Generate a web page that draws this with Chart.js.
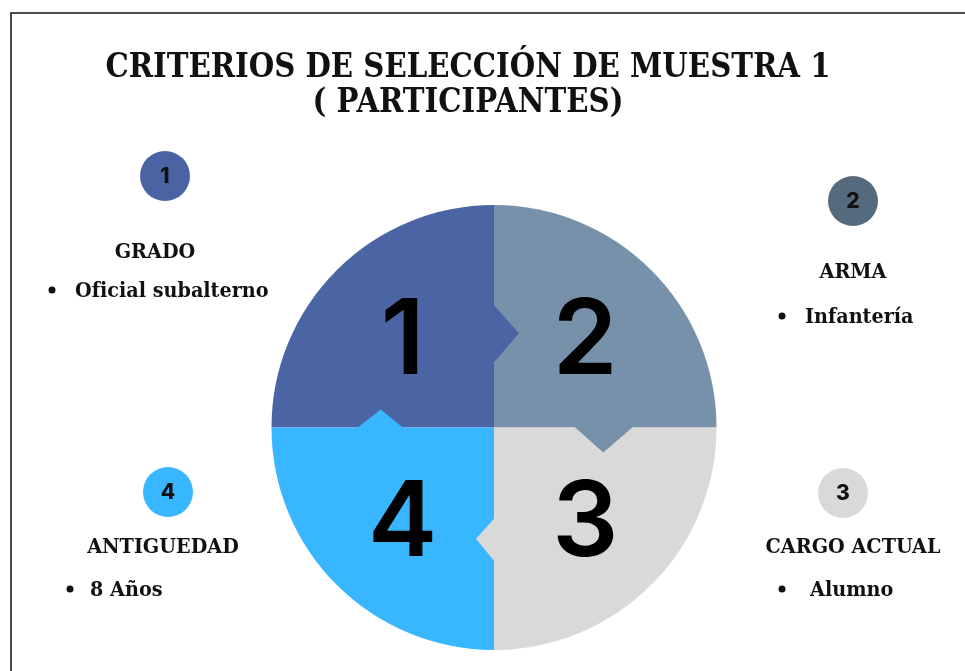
<!DOCTYPE html>
<html lang="es">
<head>
    <meta charset="UTF-8">
    <title>Criterios de selección de muestra 1</title>
    <style>
        html, body { margin: 0; padding: 0; background: #ffffff; overflow: hidden; }
        #chart { display: block; }
    </style>
</head>
<body>
    <canvas id="chart" width="965" height="671"></canvas>

    <script src="https://cdn.jsdelivr.net/npm/chart.js"></script>
    <script>
        // data
        const titleLines = ['CRITERIOS DE SELECCIÓN DE MUESTRA 1', '( PARTICIPANTES)'];
        const categories = ['1', '2', '3', '4'];
        const values = [1, 1, 1, 1];
        const headings = ['GRADO', 'ARMA', 'CARGO ACTUAL', 'ANTIGUEDAD'];
        const items = ['Oficial subalterno', 'Infantería', 'Alumno', '8 Años'];
        const sliceColors = ['#4B64A4', '#7791AA', '#D9D9D9', '#38B6FF'];
        const badgeColors = ['#4B63A3', '#566A7E', '#D9D9D9', '#38B6FF'];

        const SERIF = '"DejaVu Serif", Georgia, serif';
        const SANS = 'Inter, "Noto Sans", sans-serif';

        // where each side note sits (badge centre, heading centre/baseline, bullet)
        const notes = [
            { bx: 165, by: 176, hx: 155, hy: 258, dot: 52, tx: 75, ty: 297 },
            { bx: 853, by: 201, hx: 853, hy: 278, dot: 782, tx: 805, ty: 323 },
            { bx: 843, by: 493, hx: 853, hy: 553, dot: 782, tx: 810, ty: 596 },
            { bx: 168, by: 492, hx: 163, hy: 553, dot: 70, tx: 90, ty: 596 }
        ];

        // puzzle tabs, offsets from the pie centre for a radius of 222
        const tabs = [
            [[-2, -122], [0, -122], [25, -94], [0, -65], [-2, -65]],
            [[81, -2], [81, 0], [109, 25], [138, 0], [138, -2]],
            [[2, 91], [0, 91], [-18, 111], [0, 133], [2, 133]],
            [[-136, 2], [-136, 0], [-113, -18], [-91, 0], [-91, 2]]
        ];

        function squeezeText(ctx, text, x, y, sx, align) {
            ctx.save();
            ctx.translate(x, y);
            ctx.scale(sx, 1);
            ctx.textAlign = align || 'center';
            ctx.fillText(text, 0, 0);
            ctx.restore();
        }

        const decor = {
            id: 'decor',
            beforeDraw(chart) {
                const ctx = chart.ctx;
                ctx.save();
                ctx.strokeStyle = '#111';
                ctx.lineWidth = 1.5;
                ctx.beginPath();
                ctx.moveTo(11, 671);
                ctx.lineTo(11, 13);
                ctx.lineTo(965, 13);
                ctx.stroke();
                ctx.restore();
            },
            afterDatasetsDraw(chart) {
                const ctx = chart.ctx;
                const arcs = chart.getDatasetMeta(0).data;
                const cx = arcs[0].x, cy = arcs[0].y, r = arcs[0].outerRadius;
                const k = r / 222;

                ctx.save();
                tabs.forEach((pts, i) => {
                    ctx.fillStyle = sliceColors[i];
                    ctx.beginPath();
                    pts.forEach((p, j) => {
                        const px = cx + p[0] * k, py = cy + p[1] * k;
                        if (j === 0) ctx.moveTo(px, py); else ctx.lineTo(px, py);
                    });
                    ctx.closePath();
                    ctx.fill();
                });

                // big numbers in each quarter
                ctx.fillStyle = '#000';
                ctx.font = '600 104px ' + SANS;
                ctx.textAlign = 'center';
                ctx.textBaseline = 'middle';
                arcs.forEach((arc, i) => {
                    const mid = (arc.startAngle + arc.endAngle) / 2;
                    const d = r * 0.58;
                    ctx.fillText(categories[i], cx + Math.cos(mid) * d, cy + Math.sin(mid) * d + 6);
                });
                ctx.restore();
            },
            afterDraw(chart) {
                const ctx = chart.ctx;
                ctx.save();
                ctx.fillStyle = '#111';
                ctx.textBaseline = 'alphabetic';

                // title
                ctx.font = 'bold 33px ' + SERIF;
                const sx = 725 / ctx.measureText(titleLines[0]).width;
                squeezeText(ctx, titleLines[0], 468, 77, sx);
                squeezeText(ctx, titleLines[1], 468, 112, sx);

                notes.forEach((n, i) => {
                    ctx.fillStyle = badgeColors[i];
                    ctx.beginPath();
                    ctx.arc(n.bx, n.by, 25, 0, Math.PI * 2);
                    ctx.fill();

                    ctx.fillStyle = '#111';
                    ctx.font = '800 21px ' + SANS;
                    ctx.textAlign = 'center';
                    ctx.textBaseline = 'middle';
                    ctx.fillText(categories[i], n.bx, n.by + 1);

                    ctx.textBaseline = 'alphabetic';
                    ctx.font = 'bold 20px ' + SERIF;
                    squeezeText(ctx, headings[i], n.hx, n.hy, 0.96);
                    squeezeText(ctx, items[i], n.tx, n.ty, 0.96, 'left');

                    ctx.beginPath();
                    ctx.arc(n.dot, n.ty - 7, 3.5, 0, Math.PI * 2);
                    ctx.fill();
                });
                ctx.restore();
            }
        };

        new Chart(document.getElementById('chart'), {
            type: 'pie',
            data: {
                labels: categories,
                datasets: [{
                    data: values,
                    backgroundColor: sliceColors,
                    borderWidth: 0
                }]
            },
            options: {
                responsive: false,
                animation: false,
                rotation: -90,
                layout: { padding: { left: 260, right: 237, top: 205, bottom: 21 } },
                plugins: {
                    legend: { display: false },
                    tooltip: { enabled: false },
                    title: { display: false }
                }
            },
            plugins: [decor]
        });
    </script>
</body>
</html>
